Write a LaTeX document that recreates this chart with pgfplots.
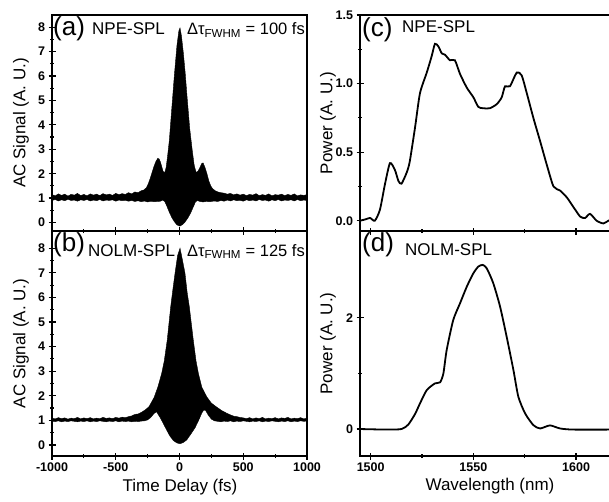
\documentclass[border=0pt]{standalone}
\usepackage{fontspec}
\setmainfont{Liberation Sans}
\usepackage{pgfplots}
\pgfplotsset{compat=1.18}
\usepackage{pgfplotstable}
\usepgfplotslibrary{fillbetween}

% upper / lower envelopes of the interferometric autocorrelation traces
\pgfplotstableread{
t S
-1000 1.14
-975 1.09
-950 1.17
-925 1.11
-900 1.16
-875 1.08
-850 1.15
-825 1.12
-800 1.19
-775 1.10
-750 1.15
-725 1.09
-700 1.17
-675 1.12
-650 1.16
-625 1.10
-600 1.18
-575 1.13
-550 1.16
-525 1.11
-500 1.19
-475 1.14
-450 1.18
-425 1.15
-400 1.22
-375 1.17
-350 1.25
-325 1.22
-300 1.30
-280 1.33
-260 1.42
-245 1.58
-230 1.80
-215 2.05
-200 2.30
-185 2.50
-170 2.63
-160 2.60
-150 2.48
-140 2.30
-128 2.08
-115 2.05
-105 2.25
-95 2.65
-80 3.35
-60 4.70
-40 6.05
-20 7.25
-5 7.85
4 7.97
15 7.65
30 6.95
45 6.10
60 5.10
80 3.85
100 2.95
115 2.35
130 2.05
145 2.10
160 2.25
175 2.42
185 2.44
200 2.25
215 2.00
230 1.70
245 1.50
260 1.38
280 1.30
300 1.25
325 1.22
350 1.20
375 1.16
400 1.19
425 1.13
450 1.17
475 1.12
500 1.16
525 1.10
550 1.15
575 1.12
600 1.18
625 1.10
650 1.14
675 1.11
700 1.17
725 1.09
750 1.14
775 1.12
800 1.16
825 1.10
850 1.15
875 1.11
900 1.17
925 1.09
950 1.13
975 1.11
1000 1.14
}\ACaUp
\pgfplotstableread{
t S
-1000 0.90
-975 0.94
-950 0.88
-925 0.93
-900 0.89
-875 0.95
-850 0.90
-825 0.92
-800 0.87
-775 0.93
-750 0.90
-725 0.94
-700 0.88
-675 0.92
-650 0.89
-625 0.94
-600 0.88
-575 0.92
-550 0.90
-525 0.93
-500 0.87
-475 0.92
-450 0.89
-425 0.91
-400 0.87
-375 0.90
-350 0.86
-325 0.89
-300 0.85
-275 0.88
-250 0.84
-225 0.87
-200 0.85
-175 0.86
-150 0.87
-130 0.92
-115 0.85
-100 0.68
-80 0.42
-60 0.20
-40 0.03
-20 -0.10
4 -0.15
25 -0.08
45 0.03
70 0.22
90 0.42
110 0.66
125 0.84
140 0.90
160 0.86
185 0.84
210 0.86
240 0.85
270 0.88
300 0.86
325 0.90
350 0.87
375 0.92
400 0.88
425 0.93
450 0.89
475 0.91
500 0.87
525 0.93
550 0.89
575 0.92
600 0.88
625 0.94
650 0.90
675 0.92
700 0.87
725 0.93
750 0.89
775 0.94
800 0.88
825 0.92
850 0.90
875 0.93
900 0.88
925 0.94
950 0.89
975 0.92
1000 0.90
}\ACaLo
\pgfplotstableread{
t S
-1000 1.09
-975 1.06
-950 1.11
-925 1.07
-900 1.10
-875 1.05
-850 1.09
-825 1.07
-800 1.12
-775 1.06
-750 1.10
-725 1.07
-700 1.11
-675 1.06
-650 1.09
-625 1.07
-600 1.12
-575 1.08
-550 1.10
-525 1.07
-500 1.12
-475 1.09
-450 1.13
-425 1.11
-400 1.15
-375 1.18
-350 1.24
-325 1.26
-300 1.32
-270 1.42
-240 1.55
-200 1.92
-170 2.35
-140 2.90
-120 3.40
-96 4.27
-69 5.62
-50 6.40
-35 6.98
-15 7.70
4 8.00
20 7.60
43 6.98
60 6.20
77 5.62
108 4.27
130 3.40
148 2.91
175 2.35
213 1.96
250 1.70
286 1.56
330 1.40
370 1.29
400 1.22
425 1.17
450 1.15
475 1.12
500 1.10
525 1.07
550 1.11
575 1.06
600 1.10
625 1.07
650 1.12
675 1.06
700 1.09
725 1.07
750 1.11
775 1.06
800 1.10
825 1.08
850 1.12
875 1.06
900 1.09
925 1.07
950 1.11
975 1.06
1000 1.09
}\ACbUp
\pgfplotstableread{
t S
-1000 0.97
-975 0.95
-950 0.98
-925 0.94
-900 0.97
-875 0.95
-850 0.98
-825 0.96
-800 0.94
-775 0.97
-750 0.95
-725 0.98
-700 0.94
-675 0.97
-650 0.95
-625 0.98
-600 0.96
-575 0.94
-550 0.97
-525 0.95
-500 0.98
-475 0.94
-450 0.97
-425 0.95
-400 0.97
-375 0.94
-350 0.96
-325 0.95
-300 0.97
-275 0.98
-250 1.02
-225 1.12
-200 1.28
-179 1.35
-165 1.22
-150 1.10
-120 0.80
-100 0.60
-75 0.36
-48 0.18
-20 0.08
4 0.05
30 0.10
56 0.20
90 0.45
122 0.70
150 1.00
175 1.30
190 1.42
205 1.40
225 1.22
250 1.05
275 0.98
300 0.96
325 0.94
350 0.97
375 0.95
400 0.98
425 0.94
450 0.97
475 0.95
500 0.98
525 0.96
550 0.94
575 0.97
600 0.95
625 0.98
650 0.94
675 0.97
700 0.95
725 0.98
750 0.96
775 0.94
800 0.97
825 0.95
850 0.98
875 0.94
900 0.97
925 0.95
950 0.98
975 0.96
1000 0.97
}\ACbLo

% optical spectra
\pgfplotstableread{
lam P
1494.8 0.00
1497.5 0.01
1499.7 0.02
1502.0 0.00
1504.5 0.08
1507.0 0.27
1509.4 0.42
1511.8 0.37
1513.5 0.29
1515.0 0.27
1517.5 0.35
1519.0 0.43
1521.6 0.68
1524.0 0.93
1527.3 1.08
1529.7 1.20
1531.3 1.29
1533.0 1.27
1534.6 1.22
1536.2 1.21
1538.6 1.17
1541.0 1.17
1543.5 1.07
1546.8 0.97
1550.0 0.90
1552.4 0.83
1554.8 0.82
1558.0 0.82
1561.4 0.85
1563.8 0.90
1565.4 0.98
1567.8 0.98
1571.1 1.08
1573.5 1.06
1576.0 0.93
1579.2 0.75
1582.5 0.58
1585.7 0.41
1589.0 0.25
1592.2 0.22
1595.5 0.17
1598.7 0.10
1602.0 0.03
1604.4 0.02
1606.8 0.05
1610.0 0.00
1613.3 -0.02
1615.7 0.00
1617.5 0.01
}\SPc
\pgfplotstableread{
lam P
1494.8 0.00
1507.8 -0.01
1515.0 0.00
1518.3 0.08
1521.6 0.27
1524.0 0.46
1527.3 0.70
1531.3 0.82
1533.8 0.84
1535.4 1.00
1537.0 1.42
1540.2 1.96
1543.5 2.26
1546.8 2.56
1550.0 2.80
1552.4 2.92
1554.5 2.95
1556.5 2.89
1559.7 2.62
1563.0 2.20
1566.2 1.66
1569.5 1.06
1571.9 0.58
1575.2 0.28
1579.2 0.07
1582.5 0.01
1587.3 0.065
1592.2 0.01
1598.7 -0.01
1617.5 -0.01
}\SPd

\pgfplotsset{
  panel/.style={
    scale only axis,
    no marks,
    axis line style={line width=1.6pt},
    tick style={line width=1.2pt, black},
    tick align=center,
    major tick length=7pt,
    minor tick length=4pt,
    tick pos=left,
    tick label style={font=\fontsize{12.5}{14}\selectfont\bfseries},
    /pgf/number format/assume math mode=true,
    /pgf/number format/1000 sep={},
  },
  acpanel/.style={
    panel,
    width=255pt,
    xmin=-1000, xmax=1000,
    xtick={-1000,-500,0,500,1000},
    minor x tick num=1,
    ytick={0,1,...,8},
    minor y tick num=1,
  },
  sppanel/.style={
    panel,
    width=252pt,
    xmin=1494.8, xmax=1617.5,
    xtick={1500,1550,1600},
    minor x tick num=1,
    minor y tick num=1,
  },
}

\begin{document}
\begin{tikzpicture}[x=1pt,y=1pt]

% (a)
\begin{axis}[acpanel, at={(52pt,270pt)}, anchor=south west, height=216pt,
  ymin=-0.35, ymax=8.5, xticklabels={}]
  \addplot[name path=au, black, line width=0.4pt] table[x=t,y=S] {\ACaUp};
  \addplot[name path=al, black, line width=0.4pt] table[x=t,y=S] {\ACaLo};
  \addplot[black] fill between[of=au and al];
\end{axis}

% (b)
\begin{axis}[acpanel, at={(52pt,45pt)}, anchor=south west, height=225pt,
  ymin=-0.45, ymax=8.7]
  \addplot[name path=bu, black, line width=0.4pt] table[x=t,y=S] {\ACbUp};
  \addplot[name path=bl, black, line width=0.4pt] table[x=t,y=S] {\ACbLo};
  \addplot[black] fill between[of=bu and bl];
\end{axis}

% (c)
\begin{axis}[sppanel, at={(360pt,270pt)}, anchor=south west, height=216pt,
  ymin=-0.075, ymax=1.5, ytick={0,0.5,1,1.5}, xticklabels={},
  yticklabel style={/pgf/number format/.cd, fixed, fixed zerofill, precision=1}]
  \addplot[black, line width=1.8pt, smooth, tension=0.4] table[x=lam,y=P] {\SPc};
\end{axis}

% (d)
\begin{axis}[sppanel, at={(360pt,45pt)}, anchor=south west, height=225pt,
  ymin=-0.485, ymax=3.56, ytick={0,2}]
  \addplot[black, line width=1.8pt, smooth, tension=0.4] table[x=lam,y=P] {\SPd};
\end{axis}

% axis titles
\node[rotate=90, font=\fontsize{17}{19}\selectfont] at (21,378) {AC Signal (A. U.)};
\node[rotate=90, font=\fontsize{17}{19}\selectfont] at (21,157.5) {AC Signal (A. U.)};
\node[rotate=90, font=\fontsize{17}{19}\selectfont] at (328,378) {Power (A. U.)};
\node[rotate=90, font=\fontsize{17}{19}\selectfont] at (328,157.5) {Power (A. U.)};
\node[font=\fontsize{17}{19}\selectfont] at (180,14) {Time Delay (fs)};
\node[font=\fontsize{17}{19}\selectfont] at (490,15) {Wavelength (nm)};

% panel tags
\node[anchor=north west, inner sep=0pt, font=\fontsize{26}{28}\selectfont] at (53,485) {(a)};
\node[anchor=base west, inner sep=0pt, font=\fontsize{17}{19}\selectfont] at (92,466) {NPE-SPL};
\node[anchor=base east, inner sep=0pt, font=\fontsize{16.5}{18}\selectfont] at (305,466) {Δτ\textsubscript{FWHM} = 100 fs};
\node[anchor=north west, inner sep=0pt, font=\fontsize{26}{28}\selectfont] at (53,269) {(b)};
\node[anchor=base west, inner sep=0pt, font=\fontsize{17}{19}\selectfont] at (88,245) {NOLM-SPL};
\node[anchor=base east, inner sep=0pt, font=\fontsize{16.5}{18}\selectfont] at (305,245) {Δτ\textsubscript{FWHM} = 125 fs};
\node[anchor=north west, inner sep=0pt, font=\fontsize{26}{28}\selectfont] at (362,484) {(c)};
\node[anchor=base west, inner sep=0pt, font=\fontsize{17}{19}\selectfont] at (402,468) {NPE-SPL};
\node[anchor=north west, inner sep=0pt, font=\fontsize{26}{28}\selectfont] at (362,269) {(d)};
\node[anchor=base west, inner sep=0pt, font=\fontsize{17}{19}\selectfont] at (405,246) {NOLM-SPL};

\pgfresetboundingbox
\useasboundingbox (0,0) rectangle (609,501);
\end{tikzpicture}
\end{document}
